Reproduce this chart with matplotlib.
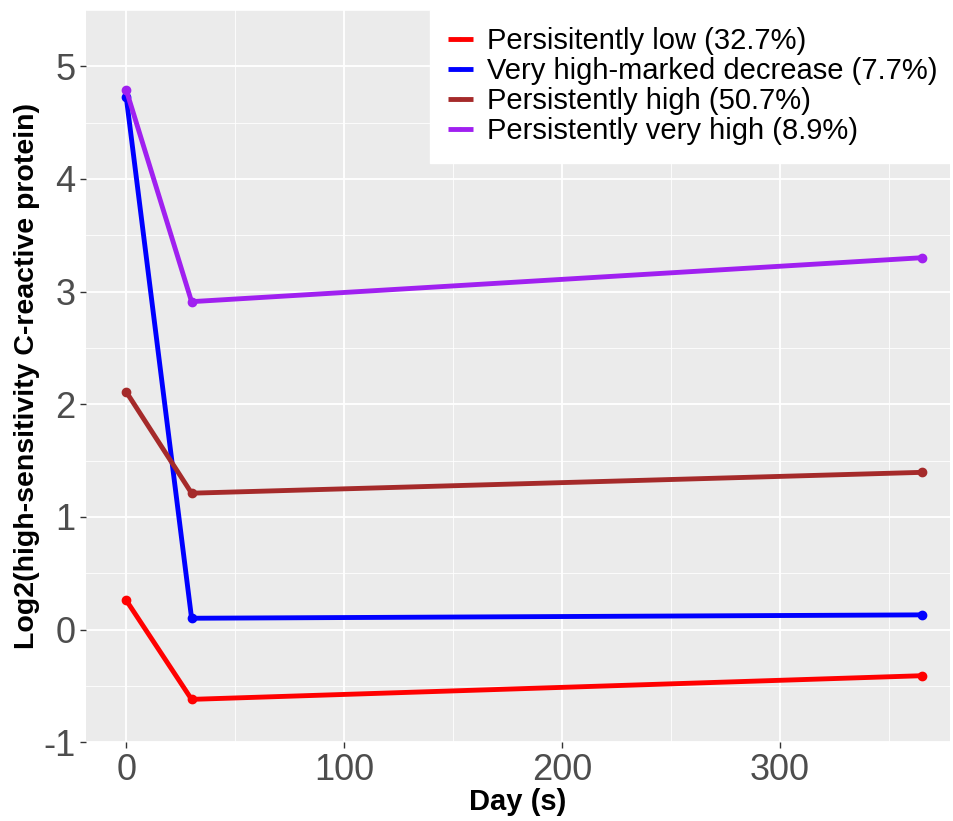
import matplotlib.pyplot as plt
from matplotlib.ticker import MultipleLocator

plt.rcParams['font.family'] = ['Liberation Sans', 'DejaVu Sans']
plt.rcParams['axes.unicode_minus'] = False

days = [0, 30, 365]
groups = ["Persisitently low (32.7%)",
          "Very high-marked decrease (7.7%)",
          "Persistently high (50.7%)",
          "Persistently very high (8.9%)"]
renkler = ["#FF0000", "#0000FF", "#A52A2A", "#A020F0"]
low = [0.26, -0.62, -0.41]
very_high_dec = [4.73, 0.10, 0.13]
high = [2.11, 1.21, 1.395]
very_high = [4.79, 2.91, 3.30]
seriler = [low, very_high_dec, high, very_high]

fig = plt.figure(figsize=(9.54, 8.21), dpi=100)
ax = fig.add_axes([0.090, 0.096, 0.906, 0.892])
ax.set_facecolor("#EBEBEB")

for ad, renk, y in zip(groups, renkler, seriler):
    ax.plot(days, y, color=renk, lw=3.5, marker="o", ms=6, label=ad, solid_capstyle="butt")

ax.set_xlim(-18.5, 378)
ax.set_ylim(-1, 5.5)
ax.xaxis.set_major_locator(MultipleLocator(100))
ax.xaxis.set_minor_locator(MultipleLocator(50))
ax.yaxis.set_major_locator(MultipleLocator(1))
ax.yaxis.set_minor_locator(MultipleLocator(0.5))
ax.grid(which="major", color="white", lw=1.3)
ax.grid(which="minor", color="white", lw=0.6)
ax.set_axisbelow(True)
for s in ax.spines.values():
    s.set_visible(False)
ax.tick_params(which="major", length=4, width=1, color="#333333", labelsize=26, labelcolor="#4D4D4D")
ax.tick_params(which="minor", length=0)

ax.set_xlabel("Day (s)", fontsize=21, fontweight="bold", labelpad=0)
ax.set_ylabel("Log2(high-sensitivity C-reactive protein)", fontsize=20.5, fontweight="bold", labelpad=2)

leg = ax.legend(loc="upper right", bbox_to_anchor=(1.005, 1.0), borderaxespad=0, fontsize=21,
                frameon=True, fancybox=False, framealpha=1, edgecolor="white", handlelength=0.85,
                handletextpad=0.48, labelspacing=0.07, borderpad=0.6, markerscale=0.3)

fig.savefig("out.png", dpi=100)
